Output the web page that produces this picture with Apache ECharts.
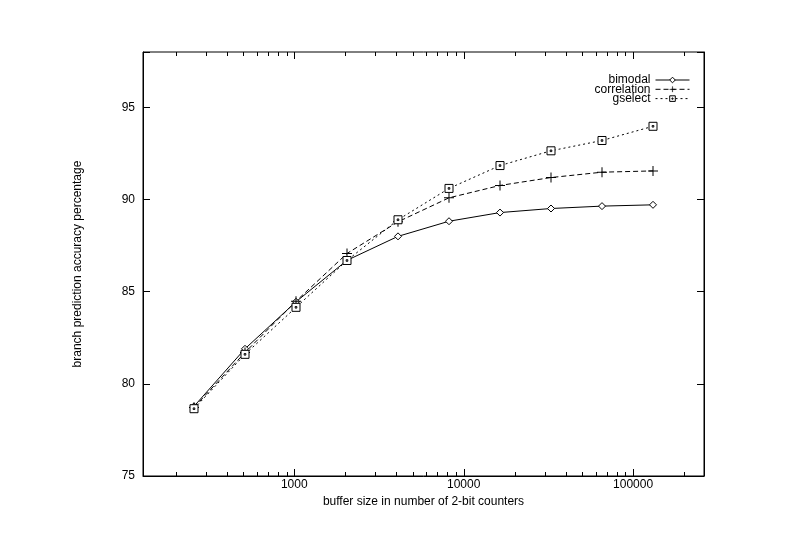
<!DOCTYPE html>
<html>
<head>
<meta charset="utf-8">
<script src="https://cdn.jsdelivr.net/npm/echarts@6/dist/echarts.min.js"></script>
<style>html,body{margin:0;padding:0;background:#fff}#c{width:792px;height:554px}</style>
</head>
<body>
<div id="c"></div>
<script>
const bufferSizes = [256, 512, 1024, 2048, 4096, 8192, 16384, 32768, 65536, 131072];
const bimodal     = [78.78, 81.9, 84.45, 86.7, 88.0, 88.82, 89.29, 89.51, 89.64, 89.71];
const correlation = [78.72, 81.7, 84.48, 87.07, 88.79, 90.09, 90.76, 91.19, 91.48, 91.55];
const gselect     = [78.65, 81.6, 84.15, 86.69, 88.9, 90.6, 91.84, 92.64, 93.2, 93.97];
const xMajorTicks = [1000, 10000, 100000];
const xMinorTicks = [200,300,400,500,600,700,800,900,2000,3000,4000,5000,6000,7000,8000,9000,
                     20000,30000,40000,50000,60000,70000,80000,90000,200000];
const yTicks = [75, 80, 85, 90, 95];

const FONT = 'Liberation Sans';
const pairs = arr => bufferSizes.map((x, i) => [x, arr[i]]);
const tickData = xMajorTicks.map(v => [v, 75, 7]).concat(xMinorTicks.map(v => [v, 75, 4]));
const CROSS = 'path://M4.5,0h1v10h-1z M0,4.5h10v1h-10z';
const BOX = 'path://M0,0h10v10h-10z M4,4h2v2h-2z';

const chart = echarts.init(document.getElementById('c'), null, {renderer: 'canvas'});
chart.setOption({
  backgroundColor: '#fff',
  animation: false,
  textStyle: {fontFamily: FONT},
  grid: {left: 143, right: 88, top: 52, bottom: 78, show: true, borderColor: '#000', borderWidth: 1},
  legend: {
    orient: 'vertical', right: 97, top: 69, align: 'right',
    itemWidth: 34, itemHeight: 7, itemGap: -2.7,
    lineStyle: {width: 1},
    textStyle: {fontFamily: FONT, fontSize: 12, color: '#000'},
    data: [
      {name: 'bimodal', itemStyle: {color: '#fff', borderColor: '#000', borderWidth: 1}},
      {name: 'correlation', itemStyle: {color: '#000', borderColor: '#000', borderWidth: 0.2}},
      {name: 'gselect', itemStyle: {color: '#fff', borderColor: '#000', borderWidth: 1}}
    ]
  },
  xAxis: {
    type: 'log', logBase: 10, min: 128, max: 262144,
    name: 'buffer size in number of 2-bit counters', nameLocation: 'middle', nameGap: 19,
    nameTextStyle: {fontFamily: FONT, fontSize: 12, color: '#000'},
    axisLine: {show: true, lineStyle: {color: '#000', width: 1}},
    axisTick: {show: false},
    splitLine: {show: false},
    axisLabel: {
      fontFamily: FONT, fontSize: 12, color: '#000', margin: 3,
      formatter: v => {
        const l = Math.log10(v);
        return (Math.abs(l - Math.round(l)) < 1e-6 && xMajorTicks.includes(Math.round(v))) ? String(Math.round(v)) : '';
      }
    }
  },
  yAxis: [{
    type: 'value', min: 75, max: 98, interval: 5,
    name: 'branch prediction accuracy percentage', nameLocation: 'middle', nameGap: 59,
    nameTextStyle: {fontFamily: FONT, fontSize: 12, color: '#000'},
    axisLine: {show: true, lineStyle: {color: '#000'}},
    axisTick: {show: true, inside: true, length: 7, lineStyle: {color: '#000'}},
    splitLine: {show: false},
    axisLabel: {fontFamily: FONT, fontSize: 12, color: '#000', margin: 8,
      formatter: v => yTicks.includes(v) ? String(v) : ''}
  }, {
    type: 'value', min: 75, max: 98, interval: 5, position: 'right',
    axisLine: {show: true, lineStyle: {color: '#000'}},
    axisTick: {show: true, inside: true, length: 7, lineStyle: {color: '#000'}},
    splitLine: {show: false},
    axisLabel: {show: false}
  }],
  series: [
    {
      name: 'bimodal', type: 'line', data: pairs(bimodal),
      symbol: 'diamond', symbolSize: 7, showAllSymbol: true,
      lineStyle: {color: '#000', width: 1, type: 'solid'},
      itemStyle: {color: '#fff', borderColor: '#000', borderWidth: 1},
      emphasis: {disabled: true}
    },
    {
      name: 'correlation', type: 'line', data: pairs(correlation),
      symbol: CROSS, symbolSize: 10, showAllSymbol: true,
      lineStyle: {color: '#000', width: 1, type: [5, 3]},
      itemStyle: {color: '#000', borderWidth: 0},
      emphasis: {disabled: true}
    },
    {
      name: 'gselect', type: 'line', data: pairs(gselect),
      symbol: BOX, symbolSize: 8, showAllSymbol: true,
      lineStyle: {color: '#000', width: 1, type: [2, 3]},
      itemStyle: {color: '#fff', borderColor: '#000', borderWidth: 1},
      emphasis: {disabled: true}
    },
    {
      type: 'custom', silent: true, data: tickData, encode: {x: 0, y: 1},
      renderItem: function (params, api) {
        const p = api.coord([api.value(0), api.value(1)]);
        const len = api.value(2);
        const cs = params.coordSys;
        const x = Math.round(p[0]) + 0.5;
        const yb = cs.y + cs.height, yt = cs.y;
        return {type: 'group', children: [
          {type: 'line', shape: {x1: x, y1: yb, x2: x, y2: yb - len}, style: {stroke: '#000', lineWidth: 1}},
          {type: 'line', shape: {x1: x, y1: yt, x2: x, y2: yt + len}, style: {stroke: '#000', lineWidth: 1}}
        ]};
      }
    }
  ]
});
</script>
</body>
</html>
